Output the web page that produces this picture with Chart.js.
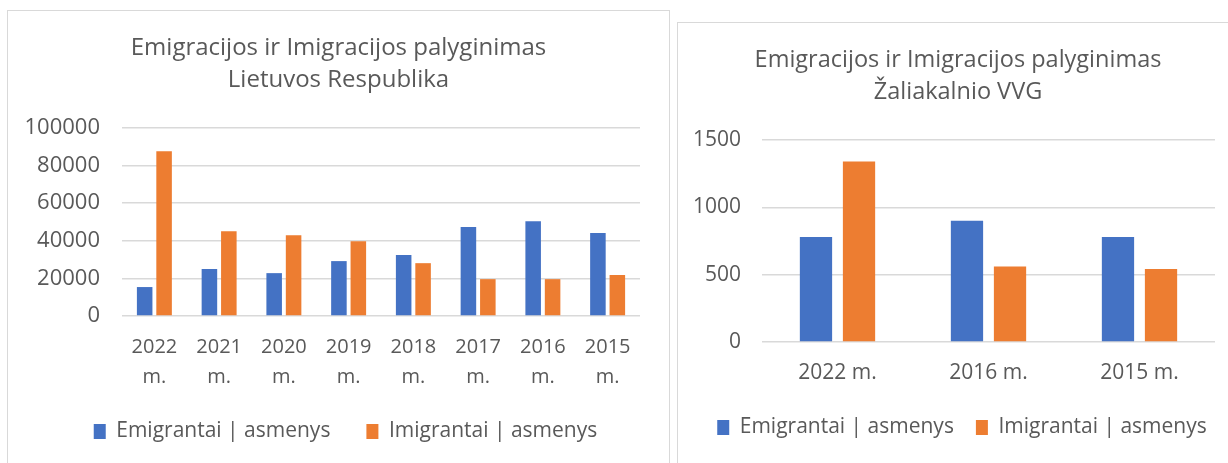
<!DOCTYPE html>
<html>
<head>
<meta charset="utf-8">
<script src="https://cdn.jsdelivr.net/npm/chart.js@4.4.1/dist/chart.umd.min.js"></script>
<style>
  body { margin: 0; background: #fff; width: 1228px; height: 463px; overflow: hidden; position: relative; }
  .panel { position: absolute; border: 1px solid #d9d9d9; background: #fff; overflow: hidden; }
  #p1 { left: 7px; top: 10px; width: 661px; height: 470px; }
  #p2 { left: 677px; top: 22px; width: 560px; height: 470px; }
  .box { position: absolute; left: 0; top: 0; }
  #b1 { width: 661px; height: 441px; }
  #b2 { width: 560px; height: 425px; }
</style>
</head>
<body>
<div class="panel" id="p1"><div class="box" id="b1"><canvas id="chart1"></canvas></div></div>
<div class="panel" id="p2"><div class="box" id="b2"><canvas id="chart2"></canvas></div></div>
<script>
// Lietuvos Respublika
const ltYears = [['2022', 'm.'], ['2021', 'm.'], ['2020', 'm.'], ['2019', 'm.'], ['2018', 'm.'], ['2017', 'm.'], ['2016', 'm.'], ['2015', 'm.']];
const ltEmigrants = [15400, 25000, 22800, 29200, 32400, 47300, 50400, 44100];
const ltImmigrants = [87600, 45100, 43000, 39800, 28100, 19600, 19600, 21800];

// Žaliakalnio VVG
const vvgYears = ['2022 m.', '2016 m.', '2015 m.'];
const vvgEmigrants = [779, 900, 779];
const vvgImmigrants = [1340, 561, 543];

const seriesNames = ['Emigrantai | asmenys', 'Imigrantai | asmenys'];
const blue = '#4472C4';
const orange = '#ED7D31';
const grey = '#595959';
const fontName = 'Open Sans';

// center title and legend on the whole panel, not only on the padded area
const centerBlocks = {
  id: 'centerBlocks',
  afterLayout(chart, args, pluginOpts) {
    const shift = pluginOpts.legendShift || 0;
    if (chart.titleBlock) {
      chart.titleBlock.left = 0;
      chart.titleBlock.right = chart.width;
    }
    if (chart.legend) {
      chart.legend.left = 0;
      chart.legend.right = chart.width + 2 * shift;
    }
  }
};

function makeChart(id, opts) {
  const ctx = document.getElementById(id).getContext('2d');
  return new Chart(ctx, {
    type: 'bar',
    data: {
      labels: opts.labels,
      datasets: [{
        label: seriesNames[0],
        data: opts.emi,
        backgroundColor: blue,
        categoryPercentage: opts.cp,
        barPercentage: opts.bp
      }, {
        label: seriesNames[1],
        data: opts.imi,
        backgroundColor: orange,
        categoryPercentage: opts.cp,
        barPercentage: opts.bp
      }]
    },
    plugins: [centerBlocks],
    options: {
      responsive: true,
      maintainAspectRatio: false,
      animation: false,
      layout: { padding: { left: 0, right: opts.padRight, top: 0, bottom: 0 } },
      plugins: {
        centerBlocks: { legendShift: opts.legendShift },
        title: {
          display: true,
          text: opts.title,
          color: grey,
          font: { family: fontName, size: opts.titleSize, weight: 'normal', lineHeight: 32 / opts.titleSize },
          padding: { top: 21, bottom: 32 }
        },
        legend: {
          position: 'bottom',
          labels: {
            color: grey,
            boxWidth: 12,
            boxHeight: 15,
            padding: opts.legendPad,
            font: { family: fontName, size: 21 }
          }
        },
        tooltip: { enabled: false }
      },
      scales: {
        x: {
          grid: { display: false, drawTicks: false },
          border: { display: false },
          ticks: {
            color: grey,
            padding: 16,
            maxRotation: 0,
            autoSkip: false,
            font: { family: fontName, size: opts.xSize, lineHeight: 30 / opts.xSize }
          },
          afterFit: function (scale) { scale.height = opts.xHeight; }
        },
        y: {
          min: 0,
          max: opts.max,
          grid: { color: '#d9d9d9', lineWidth: 1.5, drawTicks: false },
          border: { display: false },
          ticks: {
            stepSize: opts.step,
            color: grey,
            padding: opts.tickPad,
            font: { family: fontName, size: opts.ySize },
            callback: function (value) { return String(value); }
          },
          afterFit: function (scale) { scale.width = opts.yWidth; }
        }
      }
    }
  });
}

makeChart('chart1', {
  labels: ltYears,
  emi: ltEmigrants,
  imi: ltImmigrants,
  title: ['Emigracijos ir Imigracijos palyginimas', 'Lietuvos Respublika'],
  titleSize: 24, xSize: 20, ySize: 22,
  max: 100000, step: 20000,
  cp: 0.6, bp: 0.8,
  yWidth: 114, padRight: 29, tickPad: 22,
  xHeight: 69, legendPad: 36, legendShift: 7
});

makeChart('chart2', {
  labels: vvgYears,
  emi: vvgEmigrants,
  imi: vvgImmigrants,
  title: ['Emigracijos ir Imigracijos palyginimas', 'Žaliakalnio VVG'],
  titleSize: 23.5, xSize: 21, ySize: 21,
  max: 1500, step: 500,
  cp: 0.57, bp: 0.75,
  yWidth: 84, padRight: 23, tickPad: 21,
  xHeight: 53, legendPad: 22, legendShift: 4
});
</script>
</body>
</html>
